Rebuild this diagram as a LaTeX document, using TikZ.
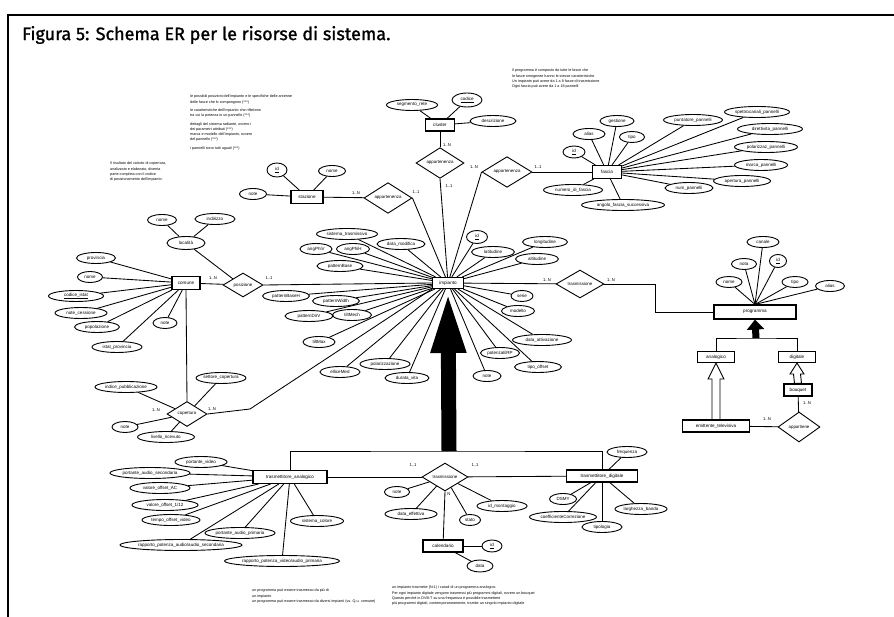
\documentclass[tikz,border=0pt]{standalone}
\usepackage{fontspec}
\setmainfont{Liberation Sans}
\newfontfamily\titlefont[FakeBold=1.2]{Fira Sans}
\usetikzlibrary{shapes.geometric,arrows.meta,calc}
\begin{document}
\begin{tikzpicture}[x=1pt,y=-1pt]
\tikzset{
 att/.style={ellipse, draw, line width=0.9pt, inner sep=0pt, minimum height=11pt, font=\fontsize{4.5}{5}\selectfont},
 ent/.style={rectangle, draw, line width=1.1pt, inner sep=1pt, minimum height=12pt, font=\fontsize{4.6}{5}\selectfont},
 rel/.style={diamond, draw, line width=0.9pt, inner sep=0pt, font=\fontsize{4.4}{5}\selectfont},
 card/.style={inner sep=0pt, font=\fontsize{4.2}{5}\selectfont},
 notetext/.style={inner sep=0pt, align=left, anchor=north west, font=\fontsize{3.7}{5.3}\selectfont},
 ln/.style={line width=0.85pt},
}
\fill[white] (0,0) rectangle (894,617);
\useasboundingbox (0,0) rectangle (894,617);
% frame
\draw[line width=1.6pt] (8,617) -- (8,15) -- (894,15);
\node[anchor=west, inner sep=0pt, font=\titlefont\fontsize{18}{20}\selectfont] (title) at (22,35) {Figura 5: Schema ER per le risorse di sistema.};

% ---------- notes ----------
\node[notetext] (n1) at (190,95) {le possibili posizioni dell'impianto e le specifiche delle antenne\\delle fasce che lo compongono (***)\\[3pt]le caratteristiche dell'impianto che riflettono\\tra cui la potenza in un pannello (***)\\[3pt]dettagli del sistema radiante, ovvero i\\dei parametri attributi (***)\\marca e modello dell'impianto, ovvero\\del pannello (***)\\[3pt]i pannelli sono tutti uguali (***)};
\node[notetext] (n2) at (512,69) {Il programma \`e composto da tutte le fasce che\\le fasce omogenee hanno le stesse caratteristiche\\Un impianto pu\`o avere da 1 a 8 fasce di trasmissione\\Ogni fascia pu\`o avere da 1 a 18 pannelli};
\node[notetext] (n3) at (110,162) {Il risultato del calcolo di copertura,\\analizzato e elaborato, diventa\\parte completa con il codice\\di posizionamento dell'impianto.};
\node[notetext] (n4) at (252,589) {un programma pu\`o essere trasmesso da pi\`u di\\un impianto\\un programma pu\`o essere trasmesso da diversi impianti (vs. Q.u. comune)};
\node[notetext] (n5) at (392,586) {un impianto trasmette (N:1) i canali di un programma analogico.\\Per ogni impianto digitale vengono trasmessi pi\`u programmi digitali, ovvero un bouquet\\Questo perch\'e in DVB-T su una frequenza \`e possibile trasmettere\\pi\`u programmi digitali, contemporaneamente, tramite un singolo impianto digitale};

% ---------- impianto ----------
\node[ent, minimum width=31pt, minimum height=11pt] (imp) at (448,283) {impianto};

% stazione
\node[ent, minimum width=32pt, minimum height=13pt] (st) at (307,197) {stazione};
\node[att, minimum width=20pt, minimum height=14pt] (stid) at (277,170) {\underline{id}};
\node[att, minimum width=27pt] (stnome) at (332,171) {nome};
\node[att, minimum width=27pt] (stnote) at (253,194) {note};
\node[rel, minimum width=48pt, minimum height=30pt] (rst) at (388,198) {appartenenza};
\foreach \a in {stid,stnome,stnote} \draw[ln] (\a) -- (st);
\draw[ln] (st) -- (rst);
\draw[ln] (rst.east) -- (imp);
\node[card] (c1) at (356,193) {1..N};
\node[card] (c2) at (416,192) {1..1};

% cluster
\node[ent, minimum width=29pt] (cl) at (440,125) {cluster};
\node[att, minimum width=51pt] (clseg) at (412,105) {segmento\_rete};
\node[att, minimum width=30pt, minimum height=14pt] (clcod) at (467,100) {\underline{codice}};
\node[att, minimum width=46pt] (cldesc) at (493,121) {descrizione};
\node[rel, minimum width=48pt, minimum height=28pt] (rcl) at (440,163) {appartenenza};
\foreach \a in {clseg,clcod,cldesc} \draw[ln] (\a) -- (cl);
\draw[ln] (cl) -- (rcl);
\draw[ln] (rcl.south) -- (imp);
\node[card] (c3) at (447,145) {1..N};
\node[card] (c4) at (449,186) {1..1};

% fascia
\node[ent, minimum width=29pt, minimum height=13pt] (fa) at (607,172) {fascia};
\node[rel, minimum width=50pt, minimum height=29pt] (rfa) at (507,172) {appartenenza};
\draw[ln] (rfa) -- (fa);
\draw[ln] (rfa.west) -- (imp);
\node[card] (c5) at (474,167) {1..N};
\node[card] (c6) at (538,167) {1..1};
\node[att, minimum width=22pt, minimum height=12pt] (faid) at (574,152) {\underline{id}};
\node[att, minimum width=32pt] (faalias) at (589,134) {alias};
\node[att, minimum width=34pt] (fagest) at (617,121) {gestione};
\node[att, minimum width=25pt] (fatipo) at (632,137) {tipo};
\node[att, minimum width=59pt] (fapunt) at (693,120) {puntatore\_pannelli};
\node[att, minimum width=65pt] (faspet) at (757,112) {spettrocanali\_pannelli};
\node[att, minimum width=65pt] (fadir) at (770,129) {direttivita\_pannelli};
\node[att, minimum width=63pt] (fapol) at (766,147) {polarizzaz\_pannelli};
\node[att, minimum width=53pt] (famarca) at (761,165) {marca\_pannelli};
\node[att, minimum width=57pt] (faaper) at (742,181) {apertura\_pannelli};
\node[att, minimum width=48pt] (fanum) at (689,188) {num\_pannelli};
\node[att, minimum width=59pt] (fanumf) at (573,190) {numero\_di\_fascia};
\node[att, minimum width=83pt] (faang) at (623,205) {angolo\_fascia\_successiva};
\foreach \a in {faid,faalias,fagest,fatipo,fapunt,faspet,fadir,fapol,famarca,faaper,fanum,fanumf,faang} \draw[ln] (\a) -- (fa);

% impianto attributes
\node[att, minimum width=61pt] (i1) at (347,234) {sistema\_trasmissivo};
\node[att, minimum width=32pt] (i2) at (316,249) {angPhiV};
\node[att, minimum width=33pt] (i3) at (353,249) {angPhiH};
\node[att, minimum width=48pt] (i4) at (401,244) {data\_modifica};
\node[att, minimum width=46pt] (i5) at (340,266) {patternBase};
\node[att, minimum width=47pt] (i6) at (286,296) {patternBaseH};
\node[att, minimum width=47pt] (i7) at (336,301) {patternWidth};
\node[att, minimum width=48pt] (i8) at (309,316) {patternDirV};
\node[att, minimum width=39pt] (i9) at (352,315) {tiltMech};
\node[att, minimum width=32pt] (i10) at (319,342) {tiltMax};
\node[att, minimum width=50pt] (i11) at (385,364) {polarizzazione};
\node[att, minimum width=40pt] (i12) at (340,372) {elliceMed};
\node[att, minimum width=44pt] (i13) at (407,378) {durata\_vita};
\node[att, minimum width=21pt, minimum height=13pt] (i14) at (477,237) {\underline{id}};
\node[att, minimum width=43pt] (i15) at (493,252) {latitudine};
\node[att, minimum width=45pt] (i16) at (545,242) {longitudine};
\node[att, minimum width=43pt] (i17) at (537,259) {altitudine};
\node[att, minimum width=22pt] (i18) at (522,296) {serie};
\node[att, minimum width=33pt] (i19) at (518,311) {modello};
\node[att, minimum width=59pt] (i20) at (542,340) {data\_attivazione};
\node[att, minimum width=39pt] (i21) at (500,353) {potenzaERP};
\node[att, minimum width=47pt] (i22) at (538,367) {tipo\_offset};
\node[att, minimum width=28pt] (i23) at (487,376) {note};
\foreach \a in {i1,i2,i3,i4,i5,i6,i7,i8,i9,i10,i11,i12,i13,i14,i15,i16,i17,i18,i19,i20,i21,i22,i23} \draw[ln] (\a) -- (imp);

% comune / localita / posizione
\node[ent, minimum width=28pt, minimum height=13pt] (co) at (186,283) {comune};
\node[att, minimum width=38pt, minimum height=13pt] (loc) at (186,243) {localit\`a};
\node[att, minimum width=29pt] (locnome) at (162,220) {nome};
\node[att, minimum width=40pt] (locind) at (215,219) {indirizzo};
\draw[ln] (locnome) -- (loc);
\draw[ln] (locind) -- (loc);
\node[rel, minimum width=40pt, minimum height=24pt] (pos) at (243,285) {posizione};
\draw[ln] (loc) -- (pos.north west);
\draw[ln] (co) -- (pos);
\draw[ln] (pos.east) -- (imp.west);
\node[card] (c7) at (213,278) {1..N};
\node[card] (c8) at (269,278) {1..1};
\node[att, minimum width=39pt] (co1) at (96,258) {provincia};
\node[att, minimum width=25pt] (co2) at (90,277) {nome};
\node[att, minimum width=55pt] (co3) at (76,296) {\underline{codice\_istat}};
\node[att, minimum width=52pt] (co4) at (81,313) {note\_cessione};
\node[att, minimum width=45pt] (co5) at (97,327) {popolazione};
\node[att, minimum width=24pt] (co6) at (165,323) {note};
\node[att, minimum width=50pt] (co7) at (117,347) {istat\_provincia};
\foreach \a in {co1,co2,co3,co4,co5,co6,co7} \draw[ln] (\a) -- (co);

% copertura
\node[rel, minimum width=40pt, minimum height=25pt] (cop) at (187,414) {copertura};
\draw[ln] (co.south) -- (cop.north);
\coordinate (copbend) at (250,409);
\draw[ln] (cop.east) -- (copbend) -- (imp.south west);
\node[card] (c9) at (156,410) {1..N};
\node[card] (c10) at (212,409) {1..N};
\node[att, minimum width=62pt] (cp1) at (126,387) {indice\_pubblicazione};
\node[att, minimum width=48pt] (cp2) at (221,378) {settore\_copertura};
\node[att, minimum width=26pt] (cp3) at (125,427) {note};
\node[att, minimum width=57pt] (cp4) at (166,437) {livello\_ricevuto};
\foreach \a in {cp1,cp2,cp3,cp4} \draw[ln] (\a) -- (cop);

% trasmissione -> programma
\node[rel, minimum width=48pt, minimum height=27pt] (rtr) at (580,284) {trasmissione};
\draw[ln] (imp) -- (rtr);
\node[card] (c11) at (547,280) {1..N};
\node[card] (c12) at (611,280) {1..N};
\node[ent, minimum width=82pt, minimum height=14pt] (prog) at (755,312) {programma};
\coordinate (trbend) at (655,284);
\draw[ln] (rtr.east) -- (trbend) |- (prog.west);
\node[att, minimum width=32pt] (p1) at (763,242) {canale};
\node[att, minimum width=17pt, minimum height=13pt] (p2) at (778,261) {\underline{id}};
\node[att, minimum width=25pt] (p3) at (744,264) {nota};
\node[att, minimum width=26pt] (p4) at (729,282) {nome};
\node[att, minimum width=26pt] (p5) at (795,282) {tipo};
\node[att, minimum width=29pt] (p6) at (830,286) {alias};
\foreach \a in {p1,p2,p3,p4,p5,p6} \draw[ln] (\a) -- (prog.north);

\node[ent, minimum width=37pt, minimum height=11pt] (ana) at (716,357) {analogico};
\node[ent, minimum width=37pt, minimum height=11pt] (dig) at (797,357) {digitale};
\coordinate (pbar) at (756,338);
\draw[ln] (ana.north) |- (pbar) -| (dig.north);
\draw[line width=7pt, -{Triangle[length=10pt,width=17pt]}] (pbar) -- (prog.south);
\node[ent, minimum width=67pt, minimum height=12pt] (emit) at (716,426) {emittente\_televisiva};
\node[ent, minimum width=28pt, minimum height=12pt] (bq) at (798,390) {bouquet};
\node[rel, minimum width=42pt, minimum height=30pt] (rapp) at (799,427) {appartiene};
\draw[ln] (emit) -- (rapp);
\draw[ln] (bq) -- (rapp);
\node[card] (c13) at (767,419) {1..N};
\node[card] (c14) at (807,403) {1..N};
\draw[line width=0.9pt, fill=white] (ana.south) -- ($(ana.south)+(-8,16)$) -- ($(ana.south)+(-4,16)$) -- ($(emit.north)+(-4,0)$) -- ($(emit.north)+(4,0)$) -- ($(ana.south)+(4,16)$) -- ($(ana.south)+(8,16)$) -- cycle;
\draw[line width=0.9pt, fill=white] (dig.south) -- ($(dig.south)+(-7,11)$) -- ($(dig.south)+(-3.5,11)$) -- ($(bq.north)+(-3.5,0)$) -- ($(bq.north)+(3.5,0)$) -- ($(dig.south)+(3.5,11)$) -- ($(dig.south)+(7,11)$) -- cycle;

% ---------- trasmettitori ----------
\node[ent, minimum width=74pt, minimum height=13pt] (ta) at (290,477) {trasmettitore\_analogico};
\node[ent, minimum width=71pt, minimum height=12pt] (td) at (602,476) {trasmettitore\_digitale};
\coordinate (bar) at (449,451);
\draw[ln] (ta.north) |- (bar) -| (td.north);
\draw[line width=15pt, -{Triangle[length=64pt,width=31pt]}] (bar) -- (imp.south);

\node[rel, minimum width=46pt, minimum height=27pt] (rtx) at (445,477) {trasmissione};
\draw[ln] (ta) -- (rtx);
\draw[ln] (rtx) -- (td);
\node[card] (c15) at (413,465) {1..1};
\node[card] (c16) at (475,465) {1..1};
\node[card] (c17) at (449,494) {N};
\node[ent, minimum width=40pt, minimum height=12pt] (cal) at (443,546) {calendario};
\draw[ln] (rtx.south) -- (cal);
\node[att, minimum width=20pt, minimum height=12pt] (calid) at (492,546) {\underline{id}};
\node[att, minimum width=26pt, minimum height=12pt] (caldata) at (480,566) {data};
\draw[ln] (calid) -- (cal);
\draw[ln] (caldata) -- (cal);
\node[att, minimum width=25pt] (x1) at (397,492) {note};
\node[att, minimum width=52pt] (x2) at (411,514) {data\_effettiva};
\node[att, minimum width=50pt] (x3) at (502,506) {id\_montaggio};
\node[att, minimum width=21pt] (x4) at (470,520) {stato};
\foreach \a in {x1,x2,x3,x4} \draw[ln] (\a) -- (rtx);

\node[att, minimum width=40pt] (d1) at (627,452) {frequenza};
\node[att, minimum width=27pt] (d2) at (563,499) {DSMY};
\node[att, minimum width=67pt] (d3) at (563,517) {coefficienteCorrezione};
\node[att, minimum width=52pt] (d4) at (641,509) {larghezza\_banda};
\node[att, minimum width=40pt] (d5) at (602,527) {tipologia};
\foreach \a in {d1,d2,d3,d4,d5} \draw[ln] (\a) -- (td);

\node[att, minimum width=52pt] (a1) at (201,462) {portante\_video};
\node[att, minimum width=80pt] (a2) at (150,473) {portante\_audio\_secondaria};
\node[att, minimum width=60pt] (a3) at (160,488) {valore\_offset\_AC};
\node[att, minimum width=66pt] (a4) at (165,505) {valore\_offset\_1/12};
\node[att, minimum width=58pt] (a5) at (171,520) {tempo\_offset\_video};
\node[att, minimum width=70pt] (a6) at (240,533) {portante\_audio\_primaria};
\node[att, minimum width=122pt] (a7) at (181,545) {rapporto\_potenza\_audio/audio\_secondaria};
\node[att, minimum width=115pt] (a8) at (282,561) {rapporto\_potenza\_video/audio\_primaria};
\node[att, minimum width=53pt] (a9) at (317,521) {sistema\_colore};
\foreach \a in {a1,a2,a3,a4,a5,a6,a7,a8,a9} \draw[ln] (\a) -- (ta);
\end{tikzpicture}
\end{document}
